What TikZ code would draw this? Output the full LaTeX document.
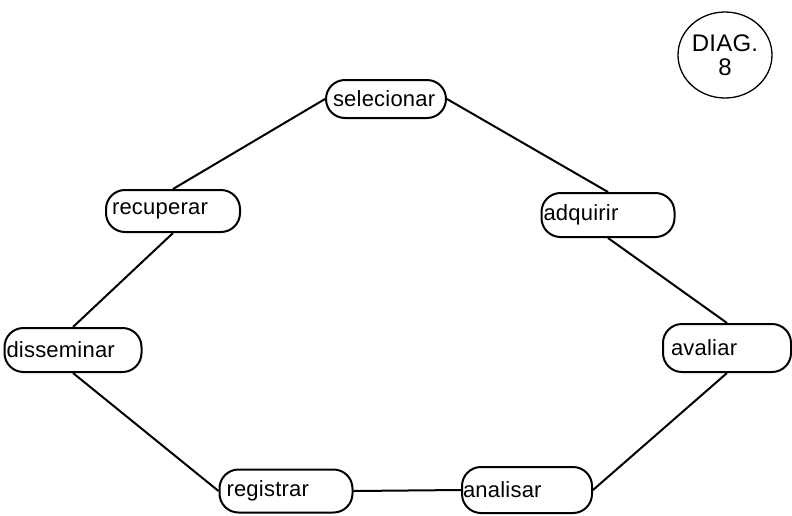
\documentclass[tikz,border=0pt]{standalone}
\usepackage{fontspec}
\setmainfont{Liberation Sans}[LetterSpace=1]
\usetikzlibrary{shapes.geometric}
\begin{document}
\begin{tikzpicture}[x=1pt,y=-1pt,
  stage/.style={draw, line width=2pt, rounded corners=19pt, minimum height=#1,
    align=left, inner ysep=0pt, font=\fontsize{22}{24}\selectfont},
  stage/.default=44pt,
  link/.style={line width=2pt},
  badge/.style={draw, line width=1.3pt, ellipse, minimum width=94pt, minimum height=86pt,
    align=center, inner sep=0pt, font=\fontsize{24}{24}\selectfont}]
\useasboundingbox (0,0) rectangle (792,515);
% the seven stages of the cycle
\node[stage=38pt, text width=106pt, inner xsep=7pt]  (sel) at (386,99)  {selecionar};
\node[stage=42pt, text width=122pt, inner xsep=6pt]  (rec) at (173,211) {recuperar};
\node[stage=44pt, text width=129pt, inner xsep=2pt]  (adq) at (608,215) {adquirir};
\node[stage=44pt, text width=133pt, inner xsep=2pt]  (dis) at (73,350)  {disseminar};
\node[stage=48pt, text width=112pt, inner xsep=8pt]  (ava) at (727,348) {avaliar};
\node[stage=43pt, text width=119pt, inner xsep=7pt]  (reg) at (286,491) {registrar};
\node[stage=46pt, text width=128pt, inner xsep=1pt]  (ana) at (527,490) {analisar};
% links between consecutive stages
\draw[link] (sel.west) -- (rec.north);
\draw[link] (sel.east) -- (adq.north);
\draw[link] (adq.south) -- (ava.north);
\draw[link] (ava.south) -- (ana.east);
\draw[link] (ana.west) -- (reg.east);
\draw[link] (reg.west) -- (dis.south);
\draw[link] (dis.north) -- (rec.south);
% diagram number badge
\node[badge] (tag) at (725,55) {DIAG.\\[0pt]8};
\end{tikzpicture}
\end{document}
